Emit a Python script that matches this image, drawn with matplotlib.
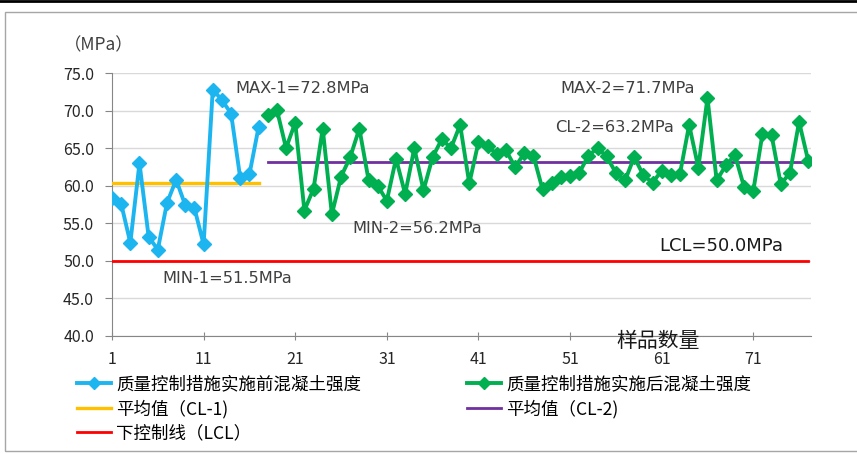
import matplotlib
matplotlib.use("Agg")
import matplotlib.pyplot as plt
from matplotlib.lines import Line2D
from matplotlib.patches import Rectangle

plt.rcParams["font.family"] = ["Noto Sans CJK SC", "DejaVu Sans"]

# before quality control measures: samples 1-17
before_idx = list(range(1, 18))
before_vals = [58.3, 57.6, 52.4, 63.0, 53.2, 51.5, 57.7, 60.8, 57.4, 57.0,
               52.2, 72.8, 71.4, 69.6, 61.0, 61.5, 67.8]

# after quality control measures: samples 18-77
after_idx = list(range(18, 78))
after_vals = [69.4, 70.1, 65.0, 68.4, 56.7, 59.6, 67.6, 56.2, 61.2, 63.8,
              67.6, 60.8, 60.0, 58.0, 63.6, 58.9, 65.0, 59.4, 63.8, 66.2,
              65.0, 68.1, 60.3, 65.8, 65.3, 64.2, 64.7, 62.5, 64.3, 64.0,
              59.5, 60.4, 61.1, 61.3, 61.7, 64.0, 65.0, 63.9, 61.7, 60.7,
              63.8, 61.4, 60.4, 62.0, 61.4, 61.6, 68.1, 62.4, 71.7, 60.7,
              62.7, 64.1, 59.8, 59.3, 66.9, 66.7, 60.2, 61.7, 68.5, 63.3]

cl1 = 60.3
cl2 = 63.2
lcl = 50.0

legend_labels = ["质量控制措施实施前混凝土强度", "质量控制措施实施后混凝土强度",
                 "平均值（CL-1)", "平均值（CL-2)", "下控制线（LCL）"]
x_ticks = [1, 11, 21, 31, 41, 51, 61, 71]
y_ticks = [40, 45, 50, 55, 60, 65, 70, 75]

BLUE = "#1cb5f0"
GREEN = "#00b050"
ORANGE = "#ffc000"
PURPLE = "#7030a0"
RED = "#ff0000"
TXT = "#404040"

fig = plt.figure(figsize=(8.57, 4.54), dpi=100)
W, H = 857, 454

# frame around the chart + black rule at top
fig.add_artist(Rectangle((5 / W, 3 / H), 1.2, 1 - 15 / H, transform=fig.transFigure,
                         fill=False, edgecolor="#a6a6a6", lw=1.0))
fig.add_artist(Line2D([0, 1], [1 - 1 / H, 1 - 1 / H], transform=fig.transFigure,
                      color="black", lw=2))

ax = fig.add_axes([112 / W, 1 - 336 / H, (811 - 112) / W, (336 - 73) / H])

ax.plot(before_idx, before_vals, color=BLUE, lw=2.8, marker="D", ms=7, zorder=4)
ax.plot(after_idx, after_vals, color=GREEN, lw=2.8, marker="D", ms=7, zorder=4)
ax.plot([before_idx[0], before_idx[-1]], [cl1, cl1], color=ORANGE, lw=2.4, zorder=3)
ax.plot([after_idx[0], after_idx[-1]], [cl2, cl2], color=PURPLE, lw=2.0, zorder=3)
ax.plot([before_idx[0], after_idx[-1]], [lcl, lcl], color=RED, lw=2.0, zorder=3)

ax.set_xlim(1, 77.3)
ax.set_ylim(40, 75)
ax.set_xticks(x_ticks)
ax.set_yticks(y_ticks)
ax.set_yticklabels([f"{v:.1f}" for v in y_ticks])
ax.tick_params(axis="both", labelsize=11.5, colors="#868686", labelcolor="#262626",
               direction="inout", length=6)
ax.tick_params(axis="x", pad=8)
ax.tick_params(axis="y", direction="out", length=5, pad=8)
for s in ["top", "right"]:
    ax.spines[s].set_visible(False)
for s in ["left", "bottom"]:
    ax.spines[s].set_color("#868686")
ax.grid(axis="y", color="#d9d9d9", lw=1.0)
ax.set_axisbelow(True)

kw = dict(fontsize=11.7, color=TXT, va="center", ha="left", family="DejaVu Sans")
ax.text(14.5, 73.0, "MAX-1=72.8MPa", **kw)
ax.text(49.9, 73.0, "MAX-2=71.7MPa", **kw)
ax.text(49.4, 67.8, "CL-2=63.2MPa", **kw)
ax.text(27.2, 54.3, "MIN-2=56.2MPa", **kw)
ax.text(6.5, 47.7, "MIN-1=51.5MPa", **kw)
ax.text(60.7, 52.0, "LCL=50.0MPa", fontsize=13, color="#1a1a1a", va="center",
        ha="left", family="DejaVu Sans")
ax.text(56.1, 39.35, "样品数量", fontsize=15, color="#1a1a1a", va="center", ha="left",
        clip_on=False)
fig.text(64 / W, 1 - 45 / H, "（MPa）", fontsize=12.5, color=TXT, va="center", ha="left")

h_blue = Line2D([], [], color=BLUE, lw=2.8, marker="D", ms=6)
h_green = Line2D([], [], color=GREEN, lw=2.8, marker="D", ms=6)
h_orange = Line2D([], [], color=ORANGE, lw=2.4)
h_purple = Line2D([], [], color=PURPLE, lw=2.0)
h_red = Line2D([], [], color=RED, lw=2.0)

leg_kw = dict(frameon=False, fontsize=12.6, handlelength=1.95, handletextpad=0.3,
              labelspacing=0.36, loc="upper left", borderaxespad=0, borderpad=0)
fig.legend([h_blue, h_orange, h_red], [legend_labels[0], legend_labels[2], legend_labels[4]],
           bbox_to_anchor=(77 / W, 1 - 375 / H), **leg_kw)
fig.legend([h_green, h_purple], [legend_labels[1], legend_labels[3]],
           bbox_to_anchor=(467 / W, 1 - 375 / H), **leg_kw)

fig.savefig("out.png", dpi=100)
